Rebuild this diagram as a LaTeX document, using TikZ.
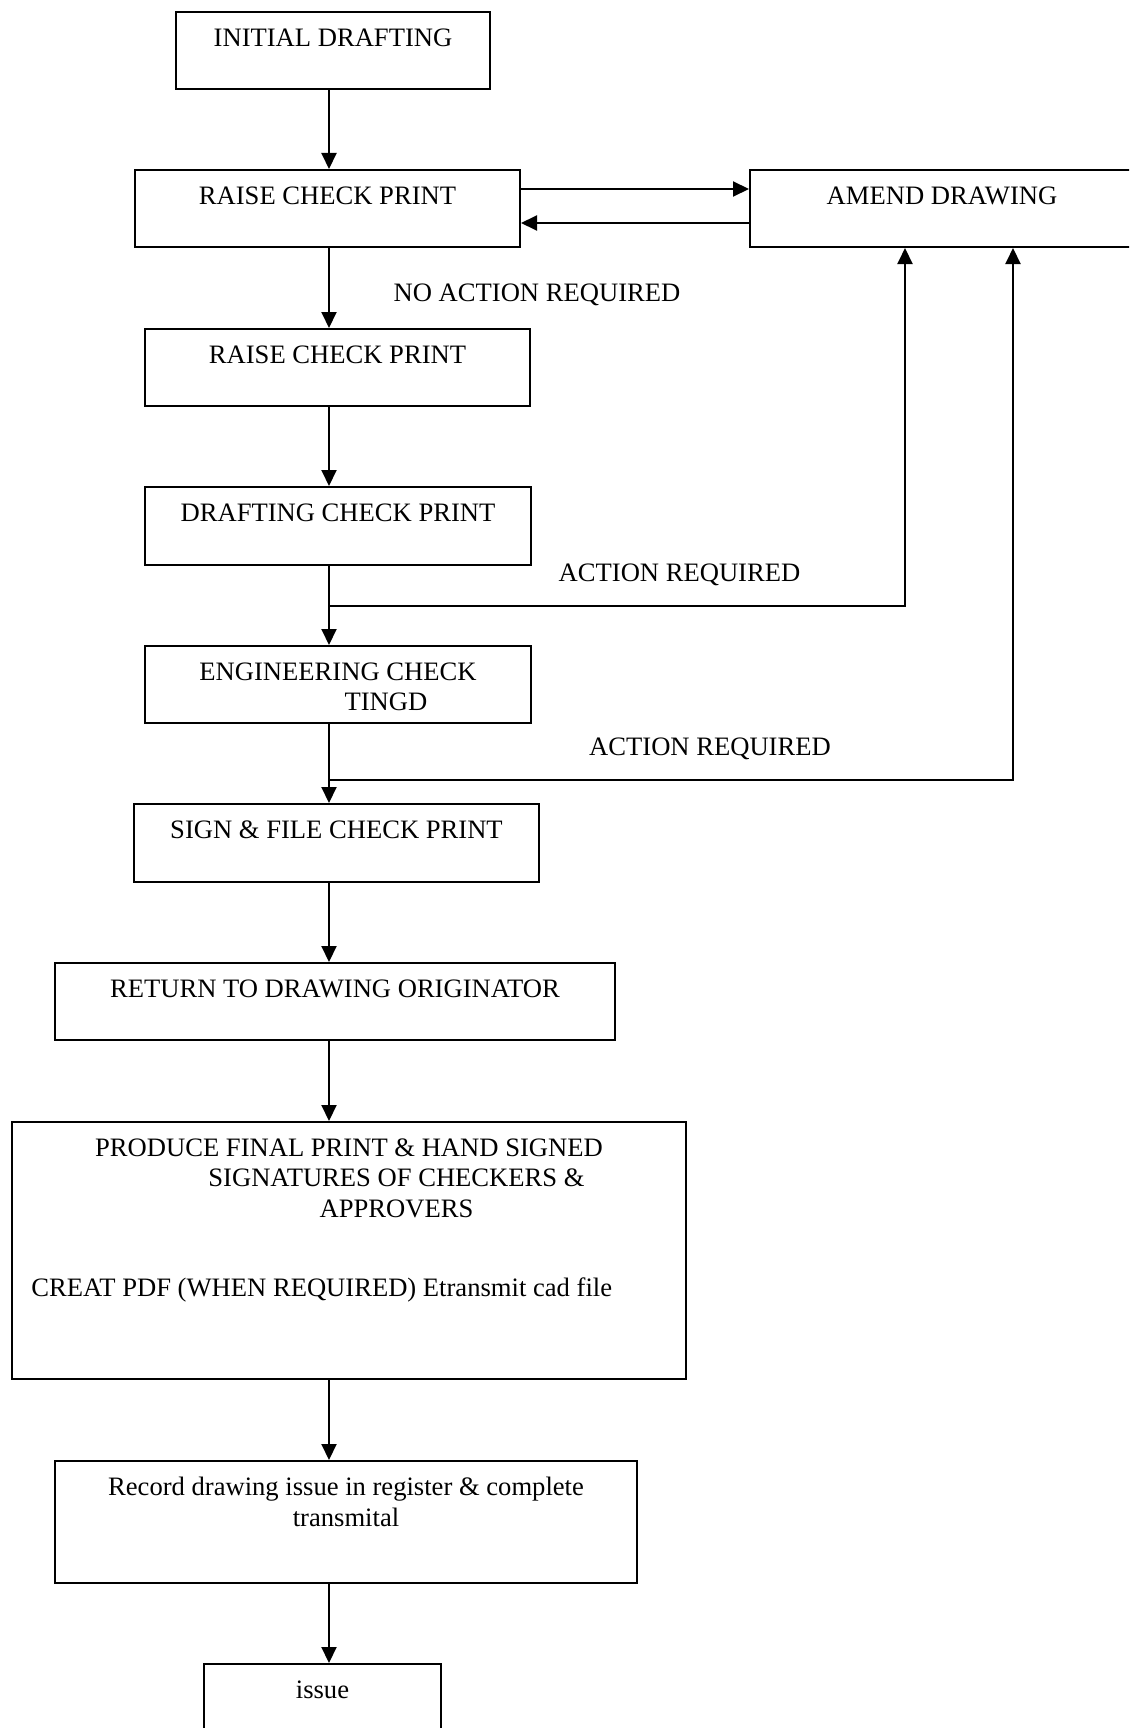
\documentclass[tikz,border=0pt]{standalone}
\usepackage{fontspec}
\setmainfont{Liberation Serif}
\usetikzlibrary{calc,arrows.meta}

\begin{document}
\begin{tikzpicture}[x = 0.5pt, y = -0.5pt,
    boxframe/.style = {draw=black, line width=1pt, rectangle, inner sep=0pt, anchor=north west},
    boxtext/.style = {font=\fontsize{13.3pt}{15.25pt}\selectfont, align=center, inner sep=0pt, anchor=north},
    flowarrow/.style = {-{Triangle[length=8pt,width=7.5pt]}, line width=1pt}]
\path[use as bounding box, clip] (0,0) rectangle (1129,1728);

\newcommand{\flowbox}[6]{
    \node[boxframe, minimum width=#4*0.5pt, minimum height=#5*0.5pt] (#1) at (#2,#3) {};
    \node[boxtext] (#1-text) at ($(#1.north)+(0,17)$) {#6};
}

\flowbox{initial}{175}{11}{314}{77}{INITIAL DRAFTING}
\flowbox{raiseA}{134}{169}{385}{77}{RAISE CHECK PRINT}
\flowbox{amend}{749}{169}{384}{77}{AMEND DRAWING}
\flowbox{raiseB}{144}{328}{385}{77}{RAISE CHECK PRINT}
\flowbox{drafting}{144}{486}{386}{78}{DRAFTING CHECK PRINT}
\flowbox{engineering}{144}{645}{386}{77}{ENGINEERING CHECK\\\hspace*{48pt}TINGD}
\flowbox{sign}{133}{803}{405}{78}{SIGN \& FILE CHECK PRINT}
\flowbox{return}{54}{962}{560}{77}{RETURN TO DRAWING ORIGINATOR}
\flowbox{produce}{11}{1121}{674}{257}{PRODUCE FINAL PRINT \& HAND SIGNED\\\hspace*{47.5pt}SIGNATURES OF CHECKERS \&\\\hspace*{47.5pt}APPROVERS}
\flowbox{record}{54}{1460}{582}{122}{Record drawing issue in register \& complete\\transmital}
\flowbox{issue}{203}{1663}{237}{100}{issue}

\node[boxtext, anchor=base west] (produce-pdf) at (31,1296) {CREAT PDF (WHEN REQUIRED) Etransmit cad file};

% labels on the branches
\node[boxtext, anchor=base] (noaction) at (537,301.7) {NO ACTION REQUIRED};
\node[boxtext, anchor=base] (actionA) at (679.5,581.7) {ACTION REQUIRED};
\node[boxtext, anchor=base] (actionB) at (710,755.7) {ACTION REQUIRED};

\coordinate (spine) at (329,0);
\coordinate (toAmend) at (0,189);
\coordinate (fromAmend) at (0,223);
\coordinate (loopA) at (905,606);
\coordinate (loopB) at (1013,780);

\foreach \a/\b in {initial/raiseA, raiseA/raiseB, raiseB/drafting, drafting/engineering, engineering/sign, sign/return, return/produce, produce/record, record/issue}
    \draw[flowarrow] (\a.south -| spine) -- (\b.north -| spine);

\draw[flowarrow] (raiseA.east |- toAmend) -- (amend.west |- toAmend);
\draw[flowarrow] (amend.west |- fromAmend) -- (raiseA.east |- fromAmend);
\draw[flowarrow] (spine |- loopA) -- (loopA) -- (amend.south -| loopA);
\draw[flowarrow] (spine |- loopB) -- (loopB) -- (amend.south -| loopB);
\end{tikzpicture}
\end{document}
